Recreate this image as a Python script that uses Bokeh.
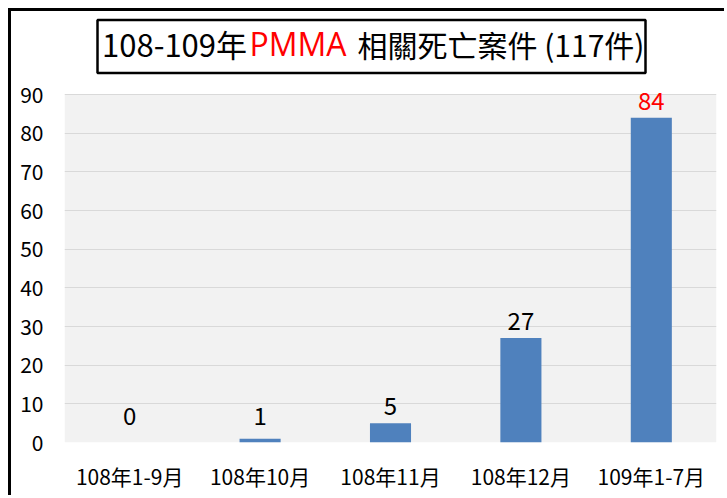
from bokeh.plotting import figure
from bokeh.models import ColumnDataSource, Range1d, FixedTicker, LabelSet
from bokeh.core.properties import value, field
from bokeh.embed import file_html
from bokeh.resources import INLINE

categories = ["108年1-9月", "108年10月", "108年11月", "108年12月", "109年1-7月"]
cases = [0, 1, 5, 27, 84]
y_ticks = [0, 10, 20, 30, 40, 50, 60, 70, 80, 90]
title_left = "108-109年"
title_mid = "PMMA"
title_right = "相關死亡案件 (117件)"

FONT = "Noto Sans CJK TC"
LATIN = "Open Sans"
BAR = "#4F81BD"
RED = "#FF0000"

PAGE_W, PAGE_H = 727, 498
OFF = 11                      # 8px margin + 3px frame line
W, H = PAGE_W - OFF, PAGE_H - OFF
# gray plot area edges in page pixels
PL, PR, PT, PB = 64, 716, 94, 442

nx = len(categories)
ymax = y_ticks[-1]
def dx(px):
    return (px - PL) / (PR - PL) * nx
def dy(py):
    return (PB - py) / (PB - PT) * ymax

label_y = [max(v, 2.5) for v in cases]
label_color = [RED if v == max(cases) else "black" for v in cases]
src = ColumnDataSource(dict(cat=categories, val=cases, ly=label_y,
                            txt=[str(v) for v in cases], col=label_color))

p = figure(x_range=categories, y_range=Range1d(0, dy(OFF)), width=W, height=H,
           output_backend="svg", toolbar_location=None,
           min_border_left=PL - OFF, min_border_right=PAGE_W - PR,
           min_border_top=0, min_border_bottom=PAGE_H - PB)
p.margin = (8, 0, 0, 8)
p.styles = {"border-left": "3px solid black", "border-top": "3px solid black"}
p.background_fill_color = "white"
p.border_fill_color = "white"
p.outline_line_color = None

# gray plot area
p.quad(left=0, right=nx, bottom=0, top=ymax, fill_color="#F2F2F2", line_color=None,
       level="image")

p.vbar(x="cat", top="val", width=0.315, fill_color=BAR, line_color=None, source=src)
p.add_layout(LabelSet(x="cat", y="ly", text="txt", source=src,
                      text_color=field("col"), text_align="center",
                      text_baseline="bottom", y_offset=8,
                      text_font=value(FONT), text_font_size=value("24px")))

p.xgrid.visible = False
p.ygrid.grid_line_color = "#D9D9D9"
p.ygrid.grid_line_width = 1
p.ygrid.ticker = FixedTicker(ticks=y_ticks)
p.yaxis.ticker = FixedTicker(ticks=y_ticks)

for ax in (p.xaxis[0], p.yaxis[0]):
    ax.axis_line_color = None
    ax.major_tick_line_color = None
    ax.minor_tick_line_color = None
    ax.major_tick_out = 0
    ax.major_tick_in = 0
    ax.minor_tick_out = 0
    ax.major_label_text_font = FONT
    ax.major_label_text_color = "black"

p.yaxis.major_label_text_font_size = "21px"
p.yaxis.major_label_standoff = 21
p.xaxis.major_label_text_font_size = "21px"
p.xaxis.major_label_standoff = 18

# title box and title text (inside the upper, non-gray part of the frame)
p.quad(left=dx(97), right=dx(645), top=dy(19.5), bottom=dy(72.5),
       fill_color=None, line_color="black", line_width=2.5)
ty = dy(43)
for txt, px, align, col, fnt, fs in [(title_left, 246.5, "right", "black", FONT, "31px"),
                                     (title_mid, 297.5, "center", RED, LATIN, "32px"),
                                     (title_right, 357, "left", "black", FONT, "30px")]:
    p.text(x=[dx(px)], y=[ty], text=[txt], text_align=align, text_baseline="middle",
           text_color=col, text_font=value(fnt), text_font_size=fs)

open("out.html", "w").write(file_html(p, INLINE))
